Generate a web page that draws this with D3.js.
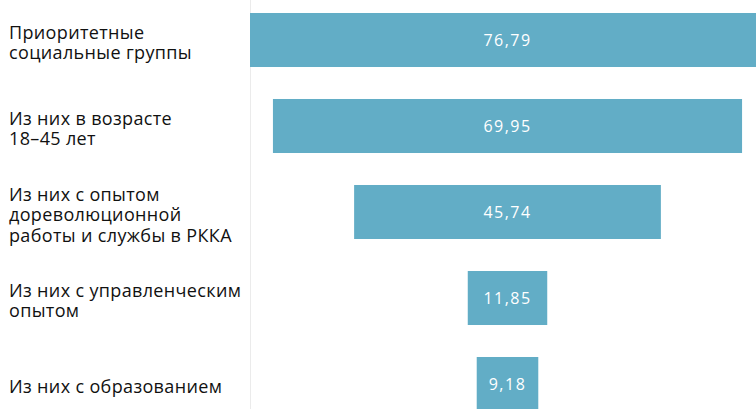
<!DOCTYPE html>
<html>
<head>
<meta charset="utf-8">
<script src="https://cdn.jsdelivr.net/npm/d3@7"></script>
<style>
  html, body { margin: 0; padding: 0; background: #fff; }
  svg { display: block; }
</style>
</head>
<body>
<svg id="chart" width="756" height="409"></svg>
<script>
const categories = [
  "Приоритетные\nсоциальные группы",
  "Из них в возрасте\n18–45 лет",
  "Из них с опытом\nдореволюционной\nработы и службы в РККА",
  "Из них с управленческим\nопытом",
  "Из них с образованием"
];
const values = [76.79, 69.95, 45.74, 11.85, 9.18];

const W = 756, H = 409;
const svg = d3.select("#chart");
const ru = d3.formatLocale({decimal: ",", thousands: " ", grouping: [3], currency: ["", ""]});
const fmt = ru.format(".2f");

const maxV = d3.max(values);
const x = d3.scaleLinear().domain([-maxV / 2, maxV / 2]).range([250, 765]);
const y = d3.scaleBand().domain(categories).range([-3, 427]).paddingInner(0.372).paddingOuter(0.186);

// axis line
svg.append("line")
  .attr("x1", x(-maxV / 2) + 0.5).attr("x2", x(-maxV / 2) + 0.5)
  .attr("y1", 0).attr("y2", H)
  .attr("stroke", "#ebebeb").attr("stroke-width", 1);

const data = categories.map((c, i) => ({c, v: values[i]}));

svg.append("g").selectAll("rect").data(data).join("rect")
  .attr("x", d => x(-d.v / 2))
  .attr("width", d => x(d.v / 2) - x(-d.v / 2))
  .attr("y", d => y(d.c))
  .attr("height", y.bandwidth())
  .attr("fill", "#62adc6");

svg.append("g").selectAll("text").data(data).join("text")
  .attr("x", x(0))
  .attr("y", d => y(d.c) + y.bandwidth() / 2 + 6)
  .attr("text-anchor", "middle")
  .attr("fill", "#ffffff")
  .style("font-family", "'Open Sans', sans-serif")
  .style("font-size", "16px")
  .style("letter-spacing", "1.5px")
  .text(d => fmt(d.v));

const lineH = 20.5;
const lab = svg.append("g").selectAll("text").data(data).join("text")
  .attr("x", 9)
  .attr("y", d => {
    const n = d.c.split("\n").length;
    return y(d.c) + y.bandwidth() / 2 - (n - 1) * lineH / 2 + 9;
  })
  .attr("fill", "#111111")
  .style("font-family", "'Open Sans', sans-serif")
  .style("font-size", "18px")
  .style("letter-spacing", "0.35px");
lab.each(function(d) {
  d3.select(this).selectAll("tspan").data(d.c.split("\n")).join("tspan")
    .attr("x", 9)
    .attr("dy", (t, i) => i === 0 ? 0 : lineH)
    .text(t => t);
});
</script>
</body>
</html>
